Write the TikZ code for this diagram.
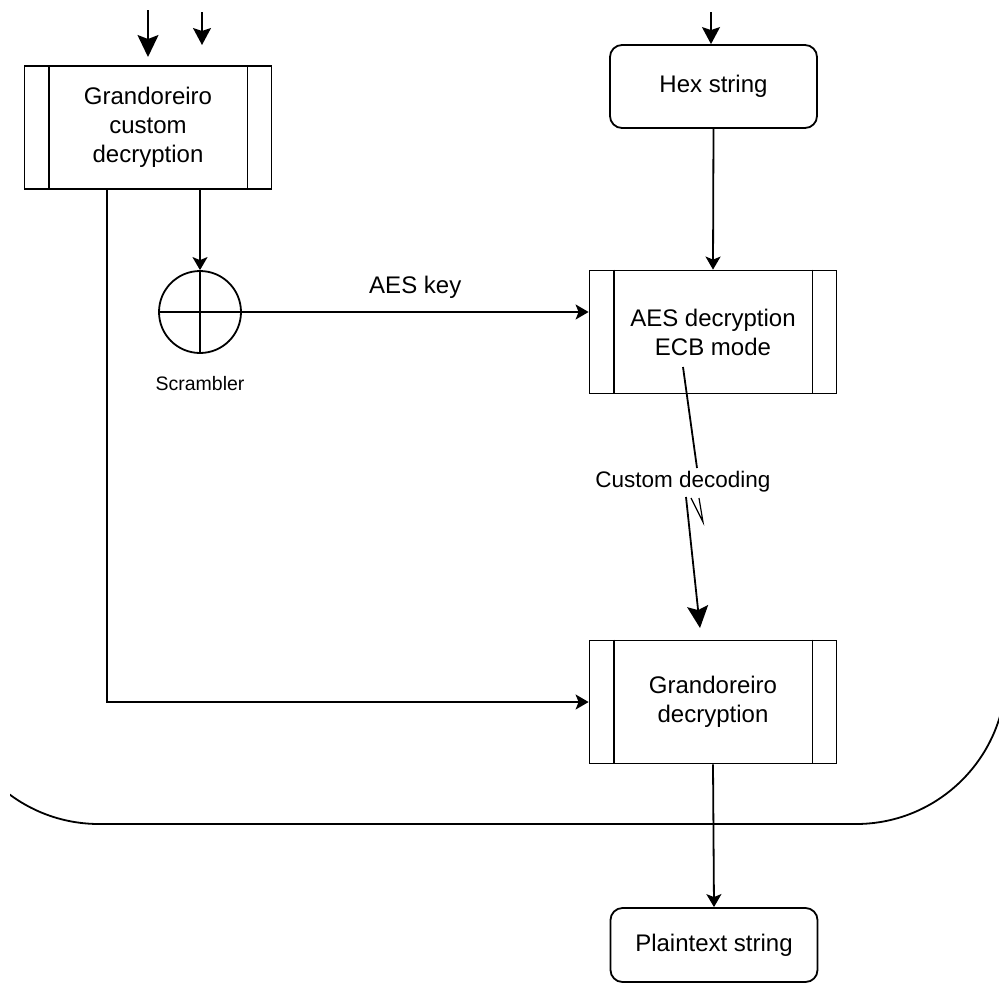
\documentclass[tikz,border=0pt]{standalone}
\usepackage{fontspec}
\setmainfont{Liberation Sans}
\usetikzlibrary{arrows.meta}
\tikzset{
  every picture/.style={line width=1.8pt},
  lbl/.style={font=\fontsize{24}{29}\selectfont, align=center, inner sep=0pt},
  procbox/.style={draw, minimum width=247pt, minimum height=123pt, lbl},
  termbox/.style={draw, rounded corners=12pt, minimum width=207pt, lbl},
  arr/.style={-{Stealth[length=13pt,width=15pt,inset=3pt]}},
  midarr/.style={-{Stealth[length=17pt,width=18pt,inset=3pt]}},
  bigarr/.style={-{Stealth[length=22pt,width=21pt,inset=4pt]}},
}
\newcommand{\sidelines}[1]{%
  \draw ([xshift=25pt]#1.north west) -- ([xshift=25pt]#1.south west);
  \draw ([xshift=-25pt]#1.north east) -- ([xshift=-25pt]#1.south east);}
\begin{document}
\begin{tikzpicture}[x=1pt,y=-1pt]
\useasboundingbox (0,0) rectangle (999,986);
% container
\begin{scope}
  \clip (10,0) rectangle (999,986);
  \draw[rounded corners=150pt] (-51,-300) rectangle (1006,824);
\end{scope}
% nodes
\node[procbox] (cd) at (148,127.5) {Grandoreiro\\custom\\decryption};
\sidelines{cd}
\node[termbox, minimum height=83pt] (hex) at (713.5,86.5) {Hex string};
\node[procbox] (aes) at (713,332) {AES decryption\\ECB mode};
\sidelines{aes}
\node[draw, circle, minimum size=82pt, inner sep=0pt] (scr) at (200,312) {};
\draw (scr.north) -- (scr.south) (scr.west) -- (scr.east);
\node[font=\fontsize{19.5}{23}\selectfont] (scrl) at (200,384) {Scrambler};
\node[procbox] (gd) at (713,702) {Grandoreiro\\decryption};
\sidelines{gd}
\node[termbox, minimum height=74pt] (pt) at (714,945) {Plaintext string};
% free ends
\coordinate (in1) at (148,10);
\coordinate (in1e) at (148,57);
\coordinate (in2) at (202,12);
\coordinate (in2e) at (202,45);
\coordinate (in3) at (711,12);
% connectors
\draw[bigarr] (in1) -- (in1e);
\draw[midarr] (in2) -- (in2e);
\draw[midarr] (in3) -- (in3 |- hex.north);
\draw[arr] (hex.south) -- (aes.north);
\draw[arr] (scr |- cd.south) -- (scr.north);
\draw[arr] (scr.east) -- (scr.east -| aes.west)
  node[midway, above=13pt, lbl] (aeskey) {AES key};
\draw[arr] ([xshift=-41pt]cd.south) |- (gd.west);
\coordinate (cd1) at (683,367);
\coordinate (cd2) at (697,468);
\node[font=\fontsize{22.5}{27}\selectfont, inner sep=0pt] (cdl) at (683,482) {Custom decoding};
\coordinate (cd3) at (686,497);
\coordinate (cd4) at (700,628);
\draw (cd1) -- (cd2);
\draw[bigarr] (cd3) -- (cd4);
\coordinate (z1) at (691,498);
\coordinate (z2) at (703,522);
\coordinate (z3) at (699,498);
\draw[line width=1.2pt] (z1) -- (z2) -- (z3);
\draw[arr] (gd.south) -- (pt.north);
\end{tikzpicture}
\end{document}
